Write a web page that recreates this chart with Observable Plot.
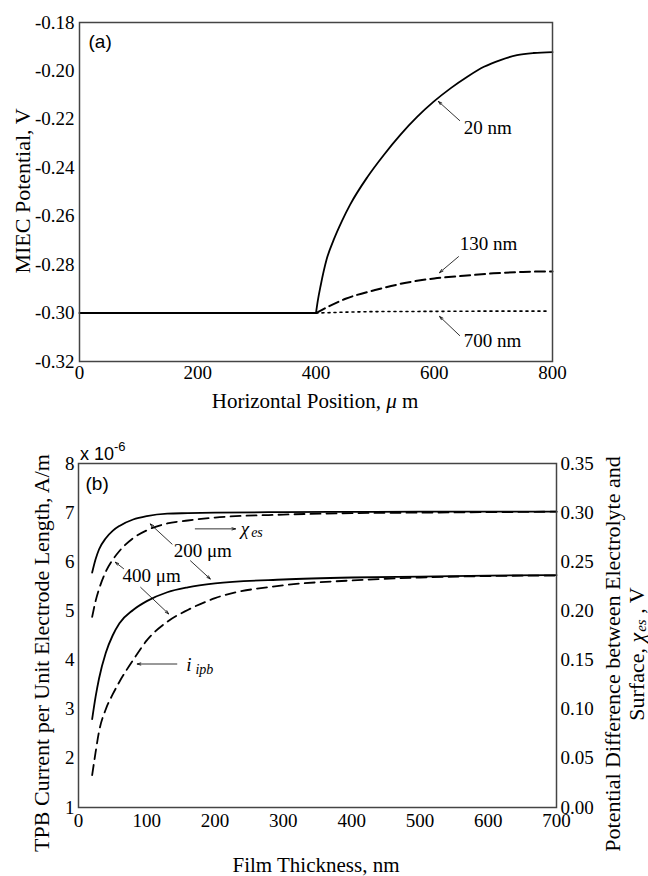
<!DOCTYPE html>
<html>
<head>
<meta charset="utf-8">
<script src="https://cdn.jsdelivr.net/npm/d3@7"></script>
<script src="https://cdn.jsdelivr.net/npm/@observablehq/plot@0.6"></script>
<style>
  html, body { margin: 0; padding: 0; background: #fff; }
  #wrap { position: relative; width: 648px; height: 876px; overflow: hidden; background: #fff; }
  #wrap svg { position: absolute; left: 0; }
</style>
</head>
<body>
<div id="wrap"></div>
<script>
// ---------- Panel (a) data ----------
const posTicks = [0, 200, 400, 600, 800];
const potTicks = [-0.32, -0.30, -0.28, -0.26, -0.24, -0.22, -0.20, -0.18];

// common flat part (0-400 µm) shared by all three films
const posFlat = [0, 400];
const potFlat = [-0.300, -0.300];
const pos20 = [400, 403, 408, 418, 430, 444, 458, 487, 515, 543, 571, 599, 628, 656, 684, 712, 740, 768, 800];
const pot20 = [-0.3000, -0.2950, -0.2885, -0.2778, -0.2697, -0.2619, -0.2551, -0.2438, -0.2346, -0.2263, -0.2190, -0.2127, -0.2071, -0.2024, -0.1983, -0.1955, -0.1935, -0.1926, -0.1922];
const pos130 = [400, 450, 500, 550, 600, 650, 700, 750, 800];
const pot130 = [-0.300, -0.2941, -0.2905, -0.2876, -0.2857, -0.2846, -0.2836, -0.2830, -0.2828];
const pos700 = [400, 500, 600, 700, 790];
const pot700 = [-0.300, -0.2994, -0.2993, -0.2992, -0.2992];

const labelsA = ["20 nm", "130 nm", "700 nm"];
const labelAX = [650, 643, 650];
const labelAY = [-0.2234, -0.2713, -0.3113];
const arrowAX1 = [643, 641, 643];
const arrowAY1 = [-0.2205, -0.2767, -0.3093];
const arrowAX2 = [607, 609, 609];
const arrowAY2 = [-0.2126, -0.2833, -0.3014];

// ---------- Panel (b) data ----------
const thickTicks = [0, 100, 200, 300, 400, 500, 600, 700];
const currentTicks = [1, 2, 3, 4, 5, 6, 7, 8];
const chiTicks = [0, 0.05, 0.10, 0.15, 0.20, 0.25, 0.30, 0.35];

const thick = [20, 25, 30, 40, 50, 60, 80, 100, 130, 160, 200, 300, 400, 500, 600, 700];
const itpb200 = [5.78, 6.05, 6.25, 6.48, 6.63, 6.73, 6.86, 6.93, 6.98, 6.99, 7.00, 7.01, 7.015, 7.02, 7.02, 7.02];
const itpb400 = [2.80, 3.25, 3.62, 4.15, 4.50, 4.75, 5.02, 5.20, 5.38, 5.48, 5.56, 5.64, 5.68, 5.70, 5.72, 5.73];
const chi200 = [0.194, 0.210, 0.222, 0.240, 0.252, 0.261, 0.274, 0.282, 0.289, 0.292, 0.295, 0.298, 0.2995, 0.300, 0.3005, 0.301];
const chi400 = [0.033, 0.056, 0.077, 0.100, 0.115, 0.128, 0.150, 0.170, 0.189, 0.201, 0.213, 0.226, 0.231, 0.234, 0.2355, 0.236];

const labelsB = ["200 μm", "400 μm"];
const labelBX = [182, 107];
const labelBY = [6.23, 5.72];
// arrows: chi_es pointer, 200 µm (x2), 400 µm (x2), i_tpb pointer
const arrowBX1 = [171, 137, 164, 66, 91, 144];
const arrowBY1 = [6.67, 6.36, 6.02, 5.86, 5.48, 3.92];
const arrowBX2 = [230, 105, 193, 54, 132, 86];
const arrowBY2 = [6.67, 6.77, 5.65, 5.99, 4.94, 3.92];
const chiLabelX = 234, chiLabelY = 6.67;
const iLabelX = 154, iLabelY = 3.92;

// ---------- helpers ----------
const pts = (xs, ys) => xs.map((x, i) => ({x, y: ys[i]}));
const chiToLeft = c => 1 + c * 20;   // right axis 0..0.35 mapped onto left 1..8
const serif = "'Liberation Serif', 'Times New Roman', serif";
const sans = "'Liberation Sans', Arial, sans-serif";
const wrap = document.getElementById("wrap");

// ---------- Panel (a) ----------
const chartA = Plot.plot({
  width: 648, height: 420,
  marginTop: 22, marginBottom: 59, marginLeft: 79, marginRight: 96,
  x: {domain: [0, 800]},
  y: {domain: [-0.32, -0.18]},
  style: {fontFamily: serif, fontSize: "19px", color: "#000", background: "transparent", overflow: "visible"},
  marks: [
    Plot.axisY({ticks: potTicks, tickSize: 0, tickPadding: 5, tickFormat: d => d.toFixed(2), label: null}),
    Plot.axisX({ticks: posTicks, tickSize: 0, tickPadding: 4, tickFormat: d => String(d), label: null}),
    Plot.line(pts(pos700, pot700), {x: "x", y: "y", stroke: "#000", strokeWidth: 1.6, strokeDasharray: "2,4", curve: "monotone-x"}),
    Plot.line(pts(pos130, pot130), {x: "x", y: "y", stroke: "#000", strokeWidth: 2, strokeDasharray: "10,5", curve: "monotone-x"}),
    Plot.line(pts(posFlat, potFlat), {x: "x", y: "y", stroke: "#000", strokeWidth: 2}),
    Plot.line(pts(pos20, pot20), {x: "x", y: "y", stroke: "#000", strokeWidth: 1.8, curve: "monotone-x"}),
    Plot.arrow(arrowAX1.map((x, i) => ({x1: x, y1: arrowAY1[i], x2: arrowAX2[i], y2: arrowAY2[i]})),
      {x1: "x1", y1: "y1", x2: "x2", y2: "y2", stroke: "#000", strokeWidth: 0.8, headLength: 7, headAngle: 35}),
    Plot.text(labelsA.map((t, i) => ({t, x: labelAX[i], y: labelAY[i]})),
      {x: "x", y: "y", text: "t", textAnchor: "start", fontSize: 19, fill: "#000"}),
    Plot.text(["(a)"], {frameAnchor: "top-left", dx: 9, dy: 12, fontFamily: sans, fontSize: 19, fill: "#000"}),
    Plot.frame({stroke: "#444", strokeWidth: 1.5})
  ]
});
chartA.style.top = "0px";
wrap.appendChild(chartA);

const sA = d3.select(chartA);
sA.append("text")
  .attr("transform", "translate(22,191) rotate(-90)")
  .attr("text-anchor", "middle").attr("dominant-baseline", "central")
  .attr("font-family", serif).attr("font-size", 22).attr("fill", "#000")
  .text("MIEC Potential, V");
const xtA = sA.append("text")
  .attr("x", 315).attr("y", 408)
  .attr("text-anchor", "middle")
  .attr("font-family", serif).attr("font-size", 21).attr("fill", "#000");
xtA.append("tspan").text("Horizontal Position, ");
xtA.append("tspan").attr("font-style", "italic").text("μ");
xtA.append("tspan").text(" m");

// ---------- Panel (b) ----------
const chartB = Plot.plot({
  width: 648, height: 456,
  marginTop: 43, marginBottom: 69, marginLeft: 78, marginRight: 92,
  x: {domain: [0, 700]},
  y: {domain: [1, 8]},
  style: {fontFamily: serif, fontSize: "19px", color: "#000", background: "transparent", overflow: "visible"},
  marks: [
    Plot.axisY({ticks: currentTicks, tickSize: 0, tickPadding: 4, tickFormat: d => String(d), label: null}),
    Plot.axisY({anchor: "right", ticks: chiTicks.map(chiToLeft), tickSize: 0, tickPadding: 4,
      tickFormat: v => ((v - 1) / 20).toFixed(2), label: null}),
    Plot.axisX({ticks: thickTicks, tickSize: 0, tickPadding: 6, tickFormat: d => String(d), label: null}),
    Plot.line(pts(thick, chi200.map(chiToLeft)), {x: "x", y: "y", stroke: "#000", strokeWidth: 1.8, strokeDasharray: "10,6", curve: "monotone-x"}),
    Plot.line(pts(thick, chi400.map(chiToLeft)), {x: "x", y: "y", stroke: "#000", strokeWidth: 1.8, strokeDasharray: "10,6", curve: "monotone-x"}),
    Plot.line(pts(thick, itpb200), {x: "x", y: "y", stroke: "#000", strokeWidth: 1.8, curve: "monotone-x"}),
    Plot.line(pts(thick, itpb400), {x: "x", y: "y", stroke: "#000", strokeWidth: 1.8, curve: "monotone-x"}),
    Plot.arrow(arrowBX1.map((x, i) => ({x1: x, y1: arrowBY1[i], x2: arrowBX2[i], y2: arrowBY2[i]})),
      {x1: "x1", y1: "y1", x2: "x2", y2: "y2", stroke: "#000", strokeWidth: 0.8, headLength: 7, headAngle: 35}),
    Plot.text(labelsB.map((t, i) => ({t, x: labelBX[i], y: labelBY[i]})),
      {x: "x", y: "y", text: "t", textAnchor: "middle", fontSize: 19, fill: "#000"}),
    Plot.text(["(b)"], {frameAnchor: "top-left", dx: 7, dy: 13, fontFamily: sans, fontSize: 19, fill: "#000"}),
    Plot.frame({stroke: "#444", strokeWidth: 1.5})
  ]
});
chartB.style.top = "420px";
wrap.appendChild(chartB);

const sB = d3.select(chartB);
const bx = chartB.scale("x"), by = chartB.scale("y");
// multiplier
const mult = sB.append("text").attr("x", 80).attr("y", 40)
  .attr("text-anchor", "start")
  .attr("font-family", sans).attr("font-size", 18).attr("fill", "#000");
mult.append("tspan").text("x 10");
mult.append("tspan").attr("dy", -9).attr("font-size", 13).text("-6");
// chi_es annotation
const chiT = sB.append("text").attr("x", bx.apply(chiLabelX) + 3).attr("y", by.apply(chiLabelY))
  .attr("text-anchor", "start").attr("dominant-baseline", "central")
  .attr("font-family", serif).attr("font-size", 19).attr("fill", "#000");
chiT.append("tspan").attr("font-style", "italic").text("χ");
chiT.append("tspan").attr("font-style", "italic").attr("font-size", 14).attr("dy", 4).attr("dx", 2).text("es");
// i_tpb annotation
const iT = sB.append("text").attr("x", bx.apply(iLabelX) + 3).attr("y", by.apply(iLabelY))
  .attr("text-anchor", "start").attr("dominant-baseline", "central")
  .attr("font-family", serif).attr("font-size", 19).attr("fill", "#000");
iT.append("tspan").attr("font-style", "italic").text("i");
iT.append("tspan").attr("font-style", "italic").attr("font-size", 14).attr("dy", 5).attr("dx", 4).text("ipb");
// axis titles
sB.append("text")
  .attr("transform", "translate(41,233) rotate(-90)")
  .attr("text-anchor", "middle").attr("dominant-baseline", "central")
  .attr("font-family", serif).attr("font-size", 22).attr("fill", "#000")
  .text("TPB Current per Unit Electrode Length, A/m");
sB.append("text")
  .attr("transform", "translate(612,234) rotate(-90)")
  .attr("text-anchor", "middle").attr("dominant-baseline", "central")
  .attr("font-family", serif).attr("font-size", 22).attr("fill", "#000")
  .text("Potential Difference between Electrolyte and");
const r2 = sB.append("text")
  .attr("transform", "translate(636,234) rotate(-90)")
  .attr("text-anchor", "middle").attr("dominant-baseline", "central")
  .attr("font-family", serif).attr("font-size", 22).attr("fill", "#000");
r2.append("tspan").text("Surface, ");
r2.append("tspan").attr("font-style", "italic").text("χ");
r2.append("tspan").attr("font-style", "italic").attr("font-size", 15).attr("dy", 5).attr("dx", 1).text("es");
r2.append("tspan").attr("dy", -5).text(" , V");
sB.append("text")
  .attr("x", 316).attr("y", 452)
  .attr("text-anchor", "middle")
  .attr("font-family", serif).attr("font-size", 21).attr("fill", "#000")
  .text("Film Thickness, nm");
</script>
</body>
</html>
